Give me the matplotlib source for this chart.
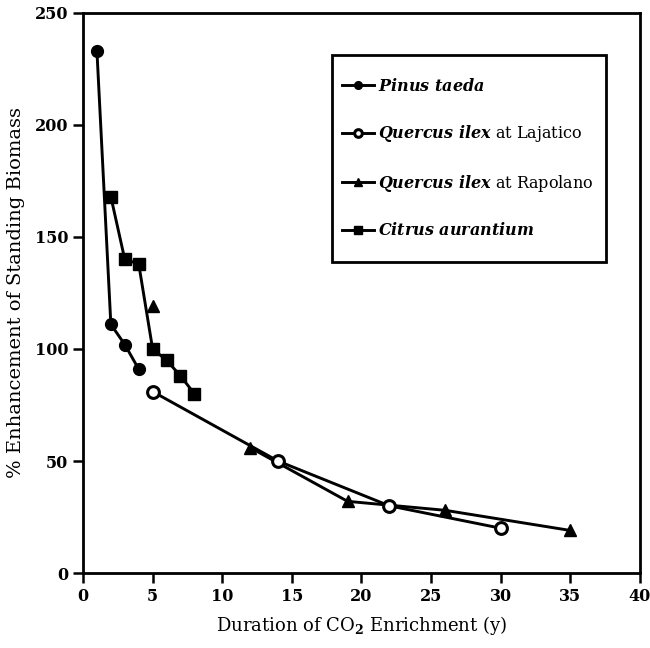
import matplotlib.pyplot as plt
from matplotlib.patches import Rectangle

plt.rcParams['font.family'] = 'DejaVu Serif'
plt.rcParams['mathtext.fontset'] = 'custom'
plt.rcParams['mathtext.rm'] = 'DejaVu Serif:bold'
plt.rcParams['mathtext.it'] = 'DejaVu Serif:italic:bold'

# data
pinus_x = [1, 2, 3, 4]
pinus_y = [233, 111, 102, 91]

lajatico_x = [5, 14, 22, 30]
lajatico_y = [81, 50, 30, 20]

rapolano_x = [5, 12, 19, 26, 35]
rapolano_y = [119, 56, 32, 28, 19]

citrus_x = [2, 3, 4, 5, 6, 7, 8]
citrus_y = [168, 140, 138, 100, 95, 88, 80]

labels = [r'$\it{Pinus\ taeda}$',
          r'$\it{Quercus\ ilex}$ at Lajatico',
          r'$\it{Quercus\ ilex}$ at Rapolano',
          r'$\it{Citrus\ aurantium}$']

fig = plt.figure(figsize=(6.5, 6.48), dpi=100)
ax = fig.add_axes([0.1277, 0.1157, 0.8569, 0.8643])

lw = 2.1
ms = 8.5
ax.plot(pinus_x, pinus_y, color='black', lw=lw, marker='o', ms=ms, label=labels[0])
ax.plot(lajatico_x, lajatico_y, color='black', lw=lw, marker='o', ms=ms,
        mfc='white', mew=2.2, label=labels[1], zorder=4)
# first Rapolano point is not joined to the rest
ax.plot(rapolano_x[1:], rapolano_y[1:], color='black', lw=lw, marker='^', ms=ms,
        label=labels[2], zorder=3)
ax.plot(rapolano_x[:1], rapolano_y[:1], color='black', ls='none', marker='^', ms=ms)
ax.plot(citrus_x, citrus_y, color='black', lw=lw, marker='s', ms=ms, label=labels[3])

ax.set_xlim(0, 40)
ax.set_ylim(0, 250)
ax.set_xticks(range(0, 41, 5))
ax.set_yticks(range(0, 251, 50))
ax.tick_params(direction='out', length=7, width=1.8, labelsize=11.5)
for lab in ax.get_xticklabels() + ax.get_yticklabels():
    lab.set_fontweight('bold')
for sp in ax.spines.values():
    sp.set_linewidth(2)

ax.set_xlabel(r'Duration of CO$_2$ Enrichment (y)', fontsize=13, labelpad=7)
ax.set_ylabel('% Enhancement of Standing Biomass', fontsize=14, labelpad=7)

# legend box drawn separately so it can have more room top and bottom
box = Rectangle((0.447, 0.555), 0.492, 0.370, transform=ax.transAxes,
                facecolor='white', edgecolor='black', lw=2, zorder=5)
ax.add_patch(box)
leg = ax.legend(loc='center left', bbox_to_anchor=(0.447, 0.740), fontsize=11.5,
                frameon=False, labelspacing=1.78, handlelength=2.0,
                handletextpad=0.3, markerscale=0.65, borderpad=0.6,
                borderaxespad=0)
leg.set_zorder(6)

fig.savefig('out.png', dpi=100)
